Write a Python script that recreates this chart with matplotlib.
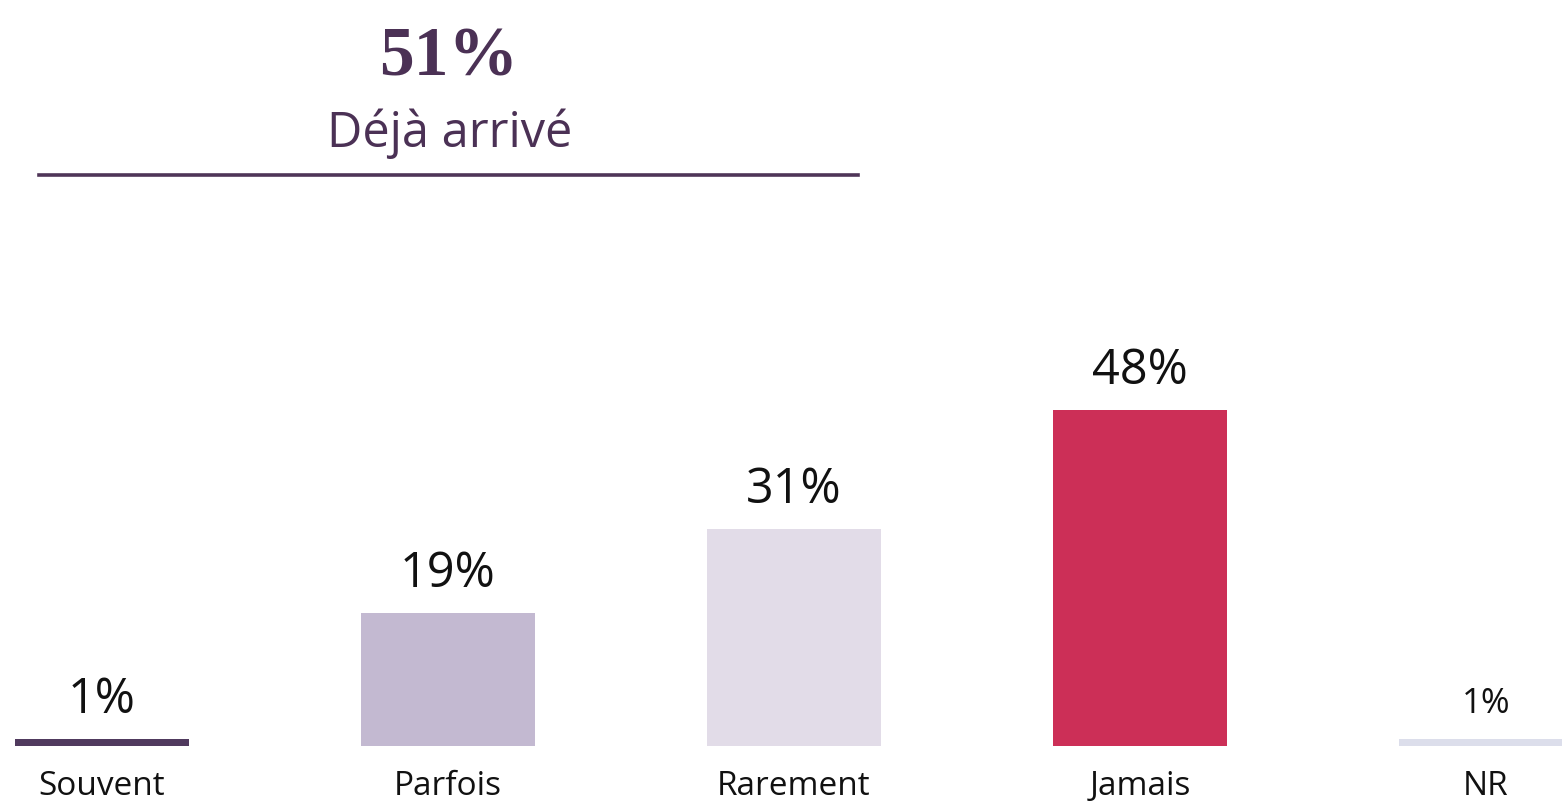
import matplotlib
matplotlib.use("Agg")
import matplotlib.pyplot as plt
from matplotlib.lines import Line2D

# Data
categories = ["Souvent", "Parfois", "Rarement", "Jamais", "NR"]
values = [1, 19, 31, 48, 1]
bar_colors = ["#503a5e", "#c3b9d1", "#e2dce8", "#cc2f57", "#dcdeeb"]
headline_value = "51%"
headline_label = "Déjà arrivé"

W, H = 1562, 801
fig = plt.figure(figsize=(W / 100, H / 100), dpi=100)

# axes: baseline at 746 px from top, 7 px per percent, bars every 346 px
ax = fig.add_axes([0, 55 / H, 1, 746 / H])
ax.set_xlim(-102 / 346, (W - 102) / 346)
ax.set_ylim(0, 746 / 7)
ax.axis("off")

sans = ["Open Sans", "DejaVu Sans"]
x = list(range(len(categories)))
ax.bar(x, values, width=174 / 346, color=bar_colors, linewidth=0)

for i, (v, c) in enumerate(zip(values, categories)):
    size = 25 if c == "NR" else 35
    ax.annotate(f"{v}%", (i, v), xytext=(0, 19), textcoords="offset points",
                ha="center", va="baseline", fontsize=size, family=sans,
                color="#111111")
    ax.text(i, -49 / 7, c, ha="center", va="baseline", fontsize=24,
            family=sans, color="#111111")

# headline block
title_color = "#4b3155"
fig.text(449 / W, 1 - 76 / H, headline_value, ha="center", va="baseline",
         fontsize=50, family=["Liberation Serif", "DejaVu Serif"],
         weight="bold", color=title_color)
fig.text(450 / W, 1 - 147 / H, headline_label, ha="center", va="baseline",
         fontsize=35, family=sans, color=title_color)
fig.add_artist(Line2D([39 / W, 858 / W], [1 - 175 / H, 1 - 175 / H],
                      transform=fig.transFigure, color="#4f3558", linewidth=2.6))

fig.savefig("out.png", dpi=100)
